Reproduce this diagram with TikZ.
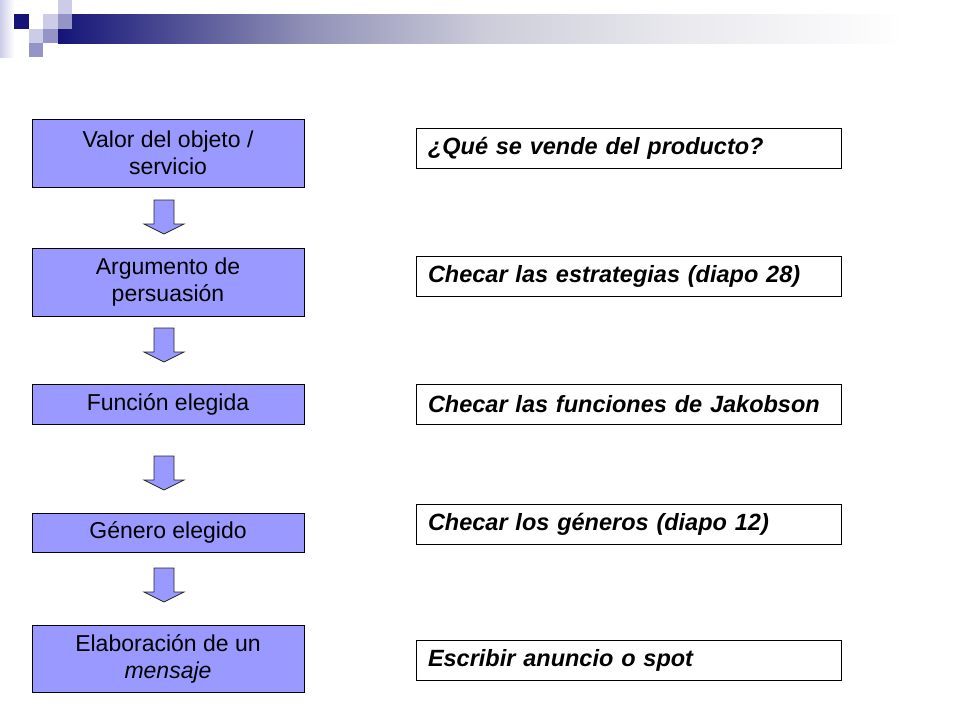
\documentclass[tikz,border=0pt]{standalone}
\usepackage{fontspec}
\setmainfont{Liberation Sans}
\usetikzlibrary{calc}
\tikzset{>=latex}
\definecolor{boxblue}{HTML}{9999FF}
\definecolor{navysq}{RGB}{20,20,120}
\definecolor{lightsq}{RGB}{204,204,232}
\definecolor{midsq}{RGB}{148,148,198}
\pgfdeclarehorizontalshading{banner}{100bp}{color(0bp)=(navysq); color(25bp)=(navysq); color(32bp)=(navysq!75!white!90!gray); color(39bp)=(navysq!45!white!85!gray); color(49bp)=(navysq!15!white!85!gray); color(60bp)=(navysq!5!white!92!gray); color(72bp)=(white); color(100bp)=(white)}
\tikzstyle{paso}=[rectangle,draw=black,fill=boxblue,line width=0.8pt,minimum width=272pt,align=center,font=\fontsize{23}{27}\selectfont]
\tikzstyle{nota}=[rectangle,draw=black,fill=white,line width=0.8pt,minimum width=425pt,minimum height=40pt,text width=401pt,inner xsep=12pt,align=left,font=\fontsize{23.5}{27}\selectfont\bfseries\itshape]
\tikzstyle{flecha}=[draw=black!85,fill=boxblue,line width=0.8pt,line join=miter]

\begin{document}
\begin{tikzpicture}[x=1pt,y=-1pt]
	\useasboundingbox[fill=white] (0,0) rectangle (960,720);
	% banner
	\shade[left color=lightsq,right color=white] (0,0) rectangle (14,57);
	\shade[shading=banner] (58,14) rectangle (960,43);
	\fill[lightsq] (58,0) rectangle (72,14);
	\fill[navysq] (14,14) rectangle (29,29);
	\fill[lightsq] (43,14) rectangle (58,29);
	\fill[midsq] (58,14) rectangle (72,29);
	\fill[lightsq] (29,29) rectangle (43,43);
	\fill[midsq] (43,29) rectangle (58,43);
	\fill[midsq] (29,43) rectangle (43,57);

	\node[paso, minimum height=68pt] (valor) at (168, 153) {Valor del objeto /\\servicio};
	\node[paso, minimum height=68pt] (argumento) at (168, 282) {Argumento de\\persuasión};
	\node[paso, minimum height=40pt] (funcion) at (168, 404) {Función elegida};
	\node[paso, minimum height=39pt] (genero) at (168, 532.5) {Género elegido};
	\node[paso, minimum height=67pt] (elaboracion) at (168, 658.5) {Elaboración de un\\\textit{mensaje}};

	\node[nota] (vende) at (628.5, 148) {¿Qué se vende del producto?};
	\node[nota] (estrategias) at (628.5, 276.5) {Checar las estrategias (diapo 28)};
	\node[nota] (jakobson) at (628.5, 404) {Checar las funciones de Jakobson};
	\node[nota] (generos) at (628.5, 524) {Checar los géneros (diapo 12)};
	\node[nota] (escribir) at (628.5, 660.5) {Escribir anuncio o spot};

	\foreach \top in {200,328,456,568}
		\draw[flecha] (154,\top) -- (174,\top) -- (174,\top+24) -- (184,\top+24) -- (164,\top+34) -- (144,\top+24) -- (154,\top+24) -- cycle;
\end{tikzpicture}
\end{document}
